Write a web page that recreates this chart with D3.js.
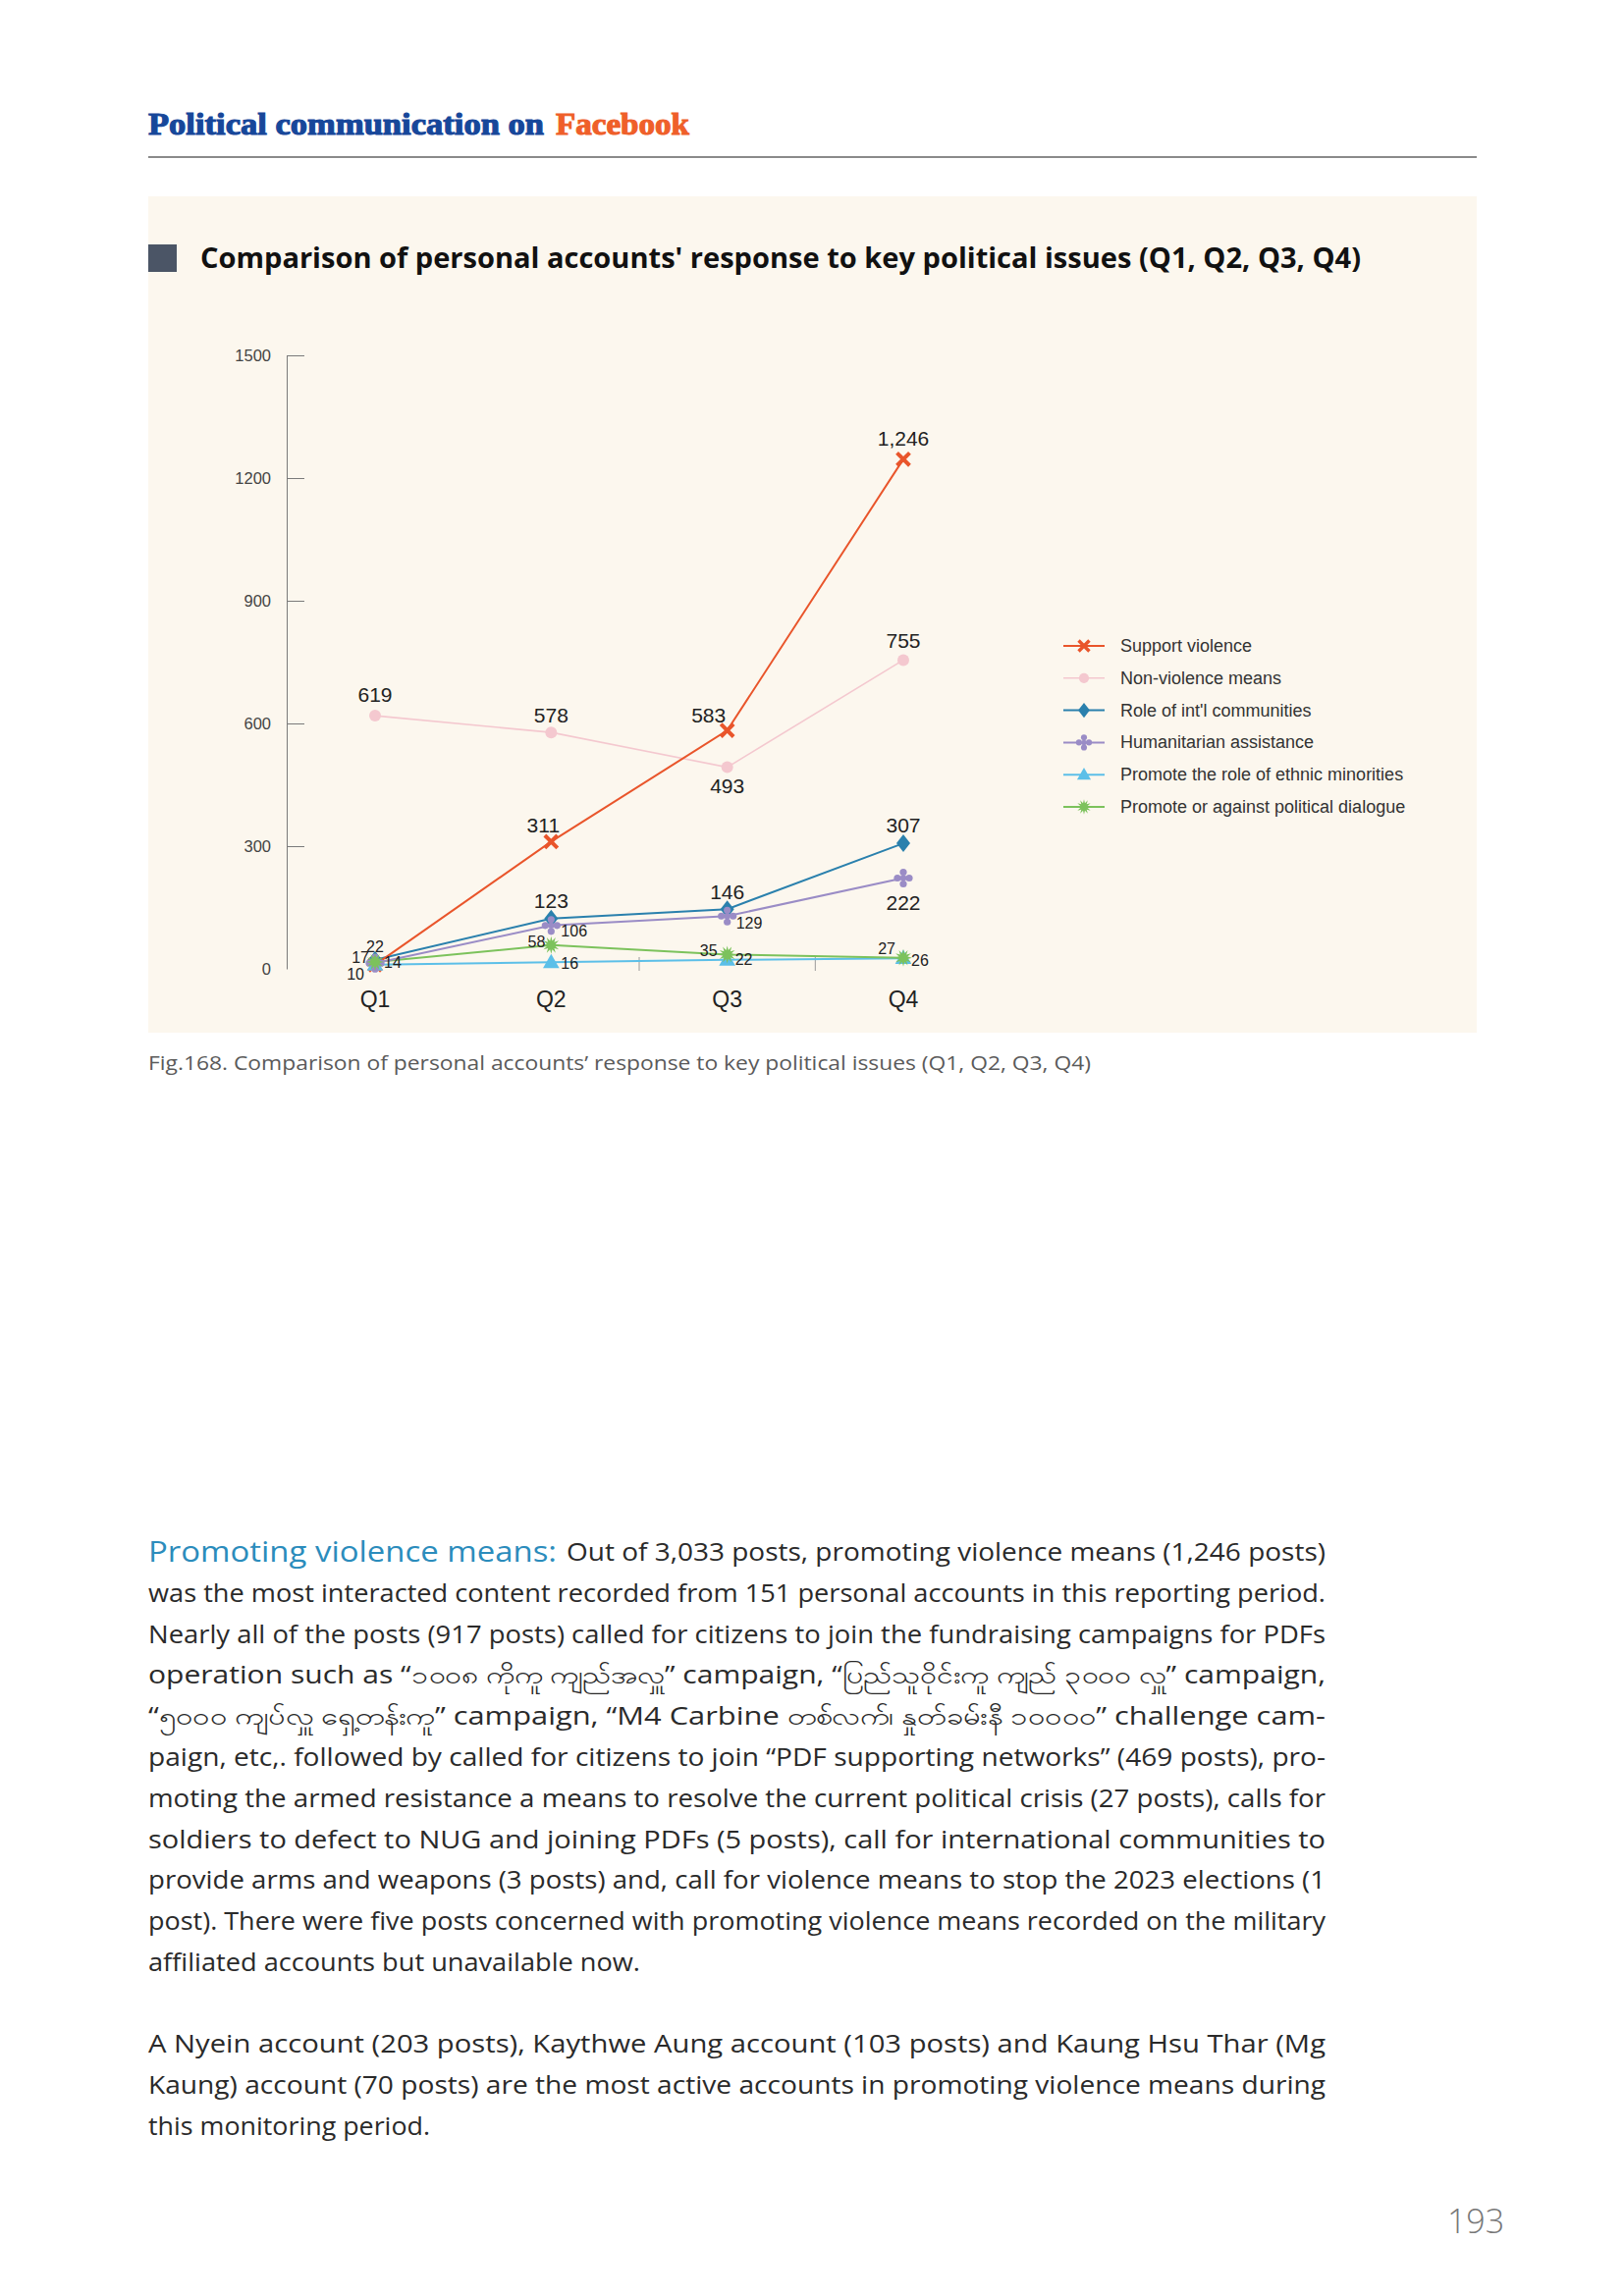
<!DOCTYPE html>
<html><head><meta charset="utf-8">
<script src="https://cdn.jsdelivr.net/npm/d3@7"></script>
<style>body{margin:0;background:#fff}svg{display:block}</style>
</head><body>
<script>
// ---------- DATA ----------
const categories = ["Q1", "Q2", "Q3", "Q4"];
const seriesNames = ["Support violence", "Non-violence means", "Role of int'l communities",
  "Humanitarian assistance", "Promote the role of ethnic minorities", "Promote or against political dialogue"];
const supportViolence = [10, 311, 583, 1246];
const nonViolence = [619, 578, 493, 755];
const roleIntl = [22, 123, 146, 307];
const humanitarian = [14, 106, 129, 222];
const ethnicMinorities = [10, 16, 22, 26];
const politicalDialogue = [17, 58, 35, 27];
const yTicks = [0, 300, 600, 900, 1200, 1500];
const hiddenLabels = [[], [], [], [], ["Q1"], []];

const headerA = "Political communication on", headerB = "Facebook";
const chartTitle = "Comparison of personal accounts' response to key political issues (Q1, Q2, Q3, Q4)";
const caption = "Fig.168. Comparison of personal accounts’ response to key political issues (Q1, Q2, Q3, Q4)";
const leadIn = "Promoting violence means:";
const para1 = [
  "Out of 3,033 posts, promoting violence means (1,246 posts)",
  "was the most interacted content recorded from 151 personal accounts in this reporting period.",
  "Nearly all of the posts (917 posts) called for citizens to join the fundraising campaigns for PDFs",
  "operation such as “၁၀၀၈ ကိုကူ ကျည်အလှူ” campaign, “ပြည်သူဝိုင်းကူ ကျည် ၃၀၀၀ လှူ” campaign,",
  "“၅၀၀၀ ကျပ်လှူ ရှေ့တန်းကူ” campaign, “M4 Carbine တစ်လက်၊ နှုတ်ခမ်းနီ ၁၀၀၀၀” challenge cam-",
  "paign, etc,. followed by called for citizens to join “PDF supporting networks” (469 posts), pro-",
  "moting the armed resistance a means to resolve the current political crisis (27 posts), calls for",
  "soldiers to defect to NUG and joining PDFs (5 posts), call for international communities to",
  "provide arms and weapons (3 posts) and, call for violence means to stop the 2023 elections (1",
  "post). There were five posts concerned with promoting violence means recorded on the military",
  "affiliated accounts but unavailable now."
];
const para2 = [
  "A Nyein account (203 posts), Kaythwe Aung account (103 posts) and Kaung Hsu Thar (Mg",
  "Kaung) account (70 posts) are the most active accounts in promoting violence means during",
  "this monitoring period."
];
const pageNumber = "193";

// ---------- STYLE ----------
const colors = ["#e9552b", "#f4c8cf", "#2a80ad", "#9a8cc6", "#5cbfe8", "#7cc25c"];
const lineWidths = [2, 1.6, 2, 2, 2, 2];
// label placement per series per point: [dx, dy, anchor, big]
const labelPos = [
  [[-11, 10, "end", 0], [-8, -17, "middle", 1], [-19, -16, "middle", 1], [0, -21, "middle", 1]],
  [[0, -22, "middle", 1], [0, -18, "middle", 1], [0, 19, "middle", 1], [0, -20, "middle", 1]],
  [[0, -13, "middle", 0], [0, -18, "middle", 1], [0, -18, "middle", 1], [0, -19, "middle", 1]],
  [[9, -1, "start", 0], [10, 6, "start", 0], [9, 7, "start", 0], [0, 25, "middle", 1]],
  [[9, 0, "start", 0], [10, 1, "start", 0], [8, 0, "start", 0], [8, 2, "start", 0]],
  [[-6, -4, "end", 0], [-6, -3, "end", 0], [-10, -4, "end", 0], [-8, -9, "end", 0]]
];

const W = 1654, H = 2339;
const svg = d3.select("body").append("svg").attr("width", W).attr("height", H);
svg.append("rect").attr("width", W).attr("height", H).attr("fill", "#fff");

// header
svg.append("text").attr("x", 151).attr("y", 137).text(headerA)
  .attr("font-family", "Liberation Serif").attr("font-weight", "bold").attr("font-size", 31)
  .attr("fill", "#17479a").attr("stroke", "#17479a").attr("stroke-width", 1.1)
  .attr("textLength", 403).attr("lengthAdjust", "spacingAndGlyphs");
svg.append("text").attr("x", 566).attr("y", 137).text(headerB)
  .attr("font-family", "Liberation Serif").attr("font-weight", "bold").attr("font-size", 31)
  .attr("fill", "#ef5f2a").attr("stroke", "#ef5f2a").attr("stroke-width", 1.1)
  .attr("textLength", 136).attr("lengthAdjust", "spacingAndGlyphs");
svg.append("line").attr("x1", 151).attr("x2", 1504).attr("y1", 160).attr("y2", 160)
  .attr("stroke", "#8a8a8a").attr("stroke-width", 2);

// panel
svg.append("rect").attr("x", 151).attr("y", 200).attr("width", 1353).attr("height", 852).attr("fill", "#fcf7ee");
svg.append("rect").attr("x", 151).attr("y", 249).attr("width", 29).attr("height", 28).attr("fill", "#4b5566");
svg.append("text").attr("x", 204).attr("y", 273).text(chartTitle)
  .attr("font-family", "Open Sans").attr("font-weight", "bold").attr("font-size", 28).attr("fill", "#111")
  .attr("textLength", 1182).attr("lengthAdjust", "spacingAndGlyphs");

// scales
const x = d3.scalePoint().domain(categories).range([382, 920]);
const y = d3.scaleLinear().domain([0, 1500]).range([987, 362]);

// y axis
const yAxis = svg.append("g").attr("transform", "translate(292,0)")
  .call(d3.axisLeft(y).tickValues(yTicks).tickFormat(d3.format("d")).tickSizeInner(-18).tickSizeOuter(0).tickPadding(16));
yAxis.select(".domain").attr("stroke", "#7a7a7a");
yAxis.selectAll(".tick line").attr("stroke", "#7a7a7a").filter(d => d === 0).remove();
yAxis.selectAll(".tick text").attr("font-family", "Liberation Sans").attr("font-size", 16.5).attr("fill", "#444");

// x category labels and small separators
const midTicks = [[categories[1], categories[2]], [categories[2], categories[3]]];
svg.selectAll(".xsep").data(midTicks).join("line")
  .attr("x1", d => (x(d[0]) + x(d[1])) / 2).attr("x2", d => (x(d[0]) + x(d[1])) / 2)
  .attr("y1", 975).attr("y2", 989).attr("stroke", "#9a9a9a").attr("stroke-width", 1);
svg.selectAll(".xlab").data(categories).join("text")
  .attr("x", d => x(d)).attr("y", 1018).attr("text-anchor", "middle").attr("dominant-baseline", "central")
  .attr("font-family", "Liberation Sans").attr("font-size", 23).attr("fill", "#222").text(d => d);

// markers
function starPath(ro, ri, n) {
  const pts = [];
  for (let i = 0; i < 2 * n; i++) {
    const a = Math.PI * i / n - Math.PI / 2, r = i % 2 ? ri : ro;
    pts.push([r * Math.cos(a), r * Math.sin(a)]);
  }
  return "M" + pts.map(p => p.join(",")).join("L") + "Z";
}
function drawMarker(g, i, c) {
  if (i === 0) {
    g.append("path").attr("d", d3.symbol(d3.symbolX, 110)()).attr("stroke", c).attr("stroke-width", 4).attr("fill", "none");
  } else if (i === 1) {
    g.append("circle").attr("r", 6).attr("fill", c);
  } else if (i === 2) {
    g.append("path").attr("d", "M0,-9L7,0L0,9L-7,0Z").attr("fill", c);
  } else if (i === 3) {
    [[0, -6], [6, 0], [0, 6], [-6, 0]].forEach(o => g.append("circle").attr("cx", o[0]).attr("cy", o[1]).attr("r", 3.6).attr("fill", c));
    g.append("circle").attr("r", 3.2).attr("fill", c);
  } else if (i === 4) {
    g.append("path").attr("d", d3.symbol(d3.symbolTriangle, 120)()).attr("transform", "translate(0,1)").attr("fill", c);
  } else {
    g.append("path").attr("d", starPath(9, 4.5, 12)).attr("fill", c);
  }
}

const allSeries = [supportViolence, nonViolence, roleIntl, humanitarian, ethnicMinorities, politicalDialogue];
const line = d3.line().x((d, j) => x(categories[j])).y(d => y(d));
const lineOrder = [1, 4, 5, 3, 2, 0];
const markerOrder = [0, 1, 4, 2, 3, 5];
lineOrder.forEach(i => {
  svg.append("path").datum(allSeries[i]).attr("d", line).attr("fill", "none")
    .attr("stroke", colors[i]).attr("stroke-width", lineWidths[i]);
});
markerOrder.forEach(i => {
  allSeries[i].forEach((v, j) => {
    const g = svg.append("g").attr("transform", `translate(${x(categories[j])},${y(v)})`);
    drawMarker(g, i, colors[i]);
  });
});
const fmt = d3.format(",");
allSeries.forEach((vals, i) => {
  vals.forEach((v, j) => {
    if (hiddenLabels[i].includes(categories[j])) return;
    const p = labelPos[i][j];
    svg.append("text").attr("x", x(categories[j]) + p[0]).attr("y", y(v) + p[1])
      .attr("text-anchor", p[2]).attr("dominant-baseline", "central")
      .attr("font-family", "Liberation Sans").attr("font-size", p[3] ? 21 : 16).attr("fill", "#222")
      .text(fmt(v));
  });
});

// legend
const legend = svg.append("g");
seriesNames.forEach((name, i) => {
  const yy = 658 + i * 32.8;
  legend.append("line").attr("x1", 1083).attr("x2", 1125).attr("y1", yy).attr("y2", yy)
    .attr("stroke", colors[i]).attr("stroke-width", lineWidths[i]);
  const g = legend.append("g").attr("transform", `translate(1104,${yy}) scale(0.85)`);
  drawMarker(g, i, colors[i]);
  legend.append("text").attr("x", 1141).attr("y", yy).attr("dominant-baseline", "central")
    .attr("font-family", "Liberation Sans").attr("font-size", 18).attr("fill", "#333").text(name);
});

// caption
svg.append("text").attr("x", 151).attr("y", 1090).text(caption)
  .attr("font-family", "Open Sans").attr("font-size", 20).attr("fill", "#5a5a5a")
  .attr("textLength", 960).attr("lengthAdjust", "spacingAndGlyphs");

// body text
const bodyFont = "Open Sans", bodySize = 25, lh = 41.8;
const lastWidths1 = 501, lastWidths2 = 287;
svg.append("text").attr("x", 151).attr("y", 1591).text(leadIn)
  .attr("font-family", bodyFont).attr("font-size", 30).attr("fill", "#2b8cbc")
  .attr("textLength", 416).attr("lengthAdjust", "spacingAndGlyphs");
para1.forEach((t, k) => {
  const xs = k === 0 ? 577 : 151;
  const len = k < para1.length - 1 ? 1350 - xs : lastWidths1;
  svg.append("text").attr("x", xs).attr("y", 1590 + k * lh).text(t)
    .attr("font-family", bodyFont).attr("font-size", bodySize).attr("fill", "#2a2a2a")
    .attr("textLength", len).attr("lengthAdjust", "spacingAndGlyphs");
});
para2.forEach((t, k) => {
  const len = k < para2.length - 1 ? 1199 : lastWidths2;
  svg.append("text").attr("x", 151).attr("y", 2091 + k * lh).text(t)
    .attr("font-family", bodyFont).attr("font-size", bodySize).attr("fill", "#2a2a2a")
    .attr("textLength", len).attr("lengthAdjust", "spacingAndGlyphs");
});
svg.append("text").attr("x", 1503).attr("y", 2275).attr("text-anchor", "middle").text(pageNumber)
  .attr("font-family", "Open Sans").attr("font-weight", 300).attr("font-size", 34).attr("fill", "#777");
</script>
</body></html>
